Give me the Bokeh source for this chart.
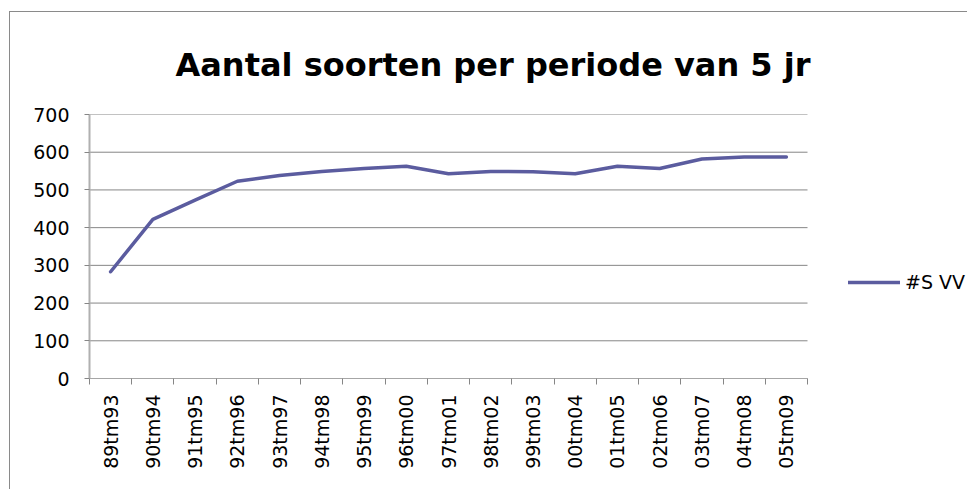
from bokeh.plotting import figure
from bokeh.models import FixedTicker, Range1d, Legend, LegendItem
from bokeh.embed import file_html
from bokeh.resources import INLINE
import math

periods = ["89tm93", "90tm94", "91tm95", "92tm96", "93tm97", "94tm98", "95tm99", "96tm00",
           "97tm01", "98tm02", "99tm03", "00tm04", "01tm05", "02tm06", "03tm07", "04tm08", "05tm09"]
svv = [283, 422, 473, 523, 538, 549, 557, 563, 543, 549, 548, 543, 563, 557, 582, 587, 587]
y_ticks = [0, 100, 200, 300, 400, 500, 600, 700]
series_name = "#S VV"
title_text = "Aantal soorten per periode van 5 jr"

n = len(periods)
xs = [i + 0.5 for i in range(n)]

W, H = 958, 478
LEFT = 79
PLOT_W = 718          # width of the plotting area proper (categories)
FRAME_W = W - LEFT    # frame extended to the right edge to host the legend
x_end = n * FRAME_W / PLOT_W

p = figure(width=W, height=H, output_backend="svg", toolbar_location=None,
           x_range=Range1d(0, x_end), y_range=Range1d(0, 700),
           min_border_left=LEFT, min_border_right=0, min_border_top=102, min_border_bottom=112)
p.margin = (11, 0, 0, 9)
p.styles = {"border-top": "1px solid #8a8a8a", "border-left": "1px solid #8a8a8a"}

p.title.text = title_text
p.title.text_font = "DejaVu Sans"
p.title.text_font_style = "bold"
p.title.text_font_size = "32px"
p.title.text_color = "black"
p.title.align = "left"
p.title.vertical_align = "top"
p.title.text_line_height = 0.7
p.title.offset = 86
p.title.standoff = 58

p.outline_line_color = None
p.background_fill_color = "white"
p.border_fill_color = "white"

# horizontal gridlines limited to the category area
p.xgrid.grid_line_color = None
p.ygrid.grid_line_color = None
p.segment(x0=[0] * len(y_ticks), x1=[n] * len(y_ticks), y0=y_ticks, y1=y_ticks,
          line_color="#868686", line_width=1)

FONT = "DejaVu Sans"
# y axis
p.yaxis.ticker = FixedTicker(ticks=y_ticks)
p.yaxis.axis_line_color = "#b0b0b0"
p.yaxis.axis_line_width = 2
p.yaxis.major_tick_line_color = "#868686"
p.yaxis.major_tick_out = 5
p.yaxis.major_tick_in = 0
p.yaxis.minor_tick_line_color = None
p.yaxis.major_label_text_font = FONT
p.yaxis.major_label_text_font_size = "19px"
p.yaxis.major_label_text_color = "black"
p.yaxis.major_label_standoff = 15

# x axis: labels at centers, ticks at category boundaries
p.xaxis.bounds = (0, n)
p.xaxis.ticker = FixedTicker(ticks=xs, minor_ticks=list(range(n + 1)))
p.xaxis.major_label_overrides = {x: lab for x, lab in zip(xs, periods)}
p.xaxis.major_label_orientation = math.pi / 2
p.xaxis.major_tick_line_color = None
p.xaxis.major_tick_out = 6
p.xaxis.minor_tick_line_color = "#868686"
p.xaxis.minor_tick_out = 6
p.xaxis.minor_tick_in = 0
p.xaxis.axis_line_color = "#a6a6a6"
p.xaxis.axis_line_width = 1
p.xaxis.major_label_text_font = FONT
p.xaxis.major_label_text_font_size = "19px"
p.xaxis.major_label_text_color = "black"
p.xaxis.major_label_standoff = 10

r = p.line(xs, svv, line_color="#5b5c9f", line_width=3.5, line_join="round", line_cap="round")

legend = Legend(items=[LegendItem(label=series_name, renderers=[r])],
                location=(PLOT_W + 41, 85), orientation="vertical",
                glyph_width=52, label_standoff=5, padding=0, margin=0, spacing=0,
                border_line_color=None, background_fill_alpha=0,
                label_text_font=FONT, label_text_font_size="19px", label_text_color="black")
p.add_layout(legend, "center")

open("out.html", "w").write(file_html(p, INLINE))
